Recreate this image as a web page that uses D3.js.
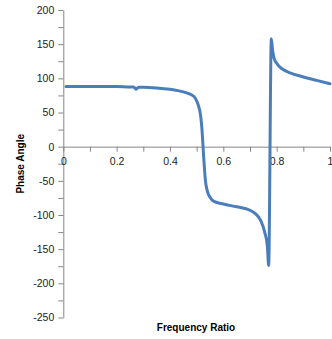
<!DOCTYPE html>
<html><head><meta charset="utf-8">
<script src="https://cdn.jsdelivr.net/npm/d3@7"></script>
<style>body{margin:0;background:#fff}svg{display:block}</style>
</head><body><svg id="c" width="332" height="339"></svg>
<script>
const xVals = [0.01,0.05,0.1,0.15,0.2,0.25,0.262,0.268,0.273,0.278,0.285,0.3,0.35,0.4,0.43,0.46,0.48,0.495,0.505,0.515,0.52,0.524,0.528,0.533,0.54,0.55,0.565,0.6,0.65,0.7,0.72,0.74,0.755,0.765,0.77,0.78,0.785,0.79,0.8,0.82,0.85,0.9,0.95,1.0];
const yVals = [88,88,88,88,88,87.5,87.5,86,84,86,87,87,86,84,82,79,76,71,62,45,25,0,-25,-50,-65,-74,-80,-84,-88,-93,-98,-108,-125,-145,-174,158,140,130,122,114,108,102,97,92];
const xTicks = [0,0.2,0.4,0.6,0.8,1];
const yTicks = [-250,-200,-150,-100,-50,0,50,100,150,200];
const xTitle = "Frequency Ratio", yTitle = "Phase Angle";

const svg = d3.select("#c");
const x = d3.scaleLinear().domain([0,1]).range([63.3,330]);
const y = d3.scaleLinear().domain([-250,200]).range([317.5,10]);
const axisCol = "#868686";
const font = "'Liberation Sans', Arial, sans-serif";

// y axis
const ya = svg.append("g").attr("transform",`translate(${x(0)},0)`)
  .call(d3.axisLeft(y).tickValues(yTicks).tickSize(5).tickSizeOuter(0).tickFormat(d=>String(d)));
ya.select(".domain").attr("stroke",axisCol);
ya.selectAll(".tick line").attr("stroke",axisCol);
ya.selectAll("text").attr("font-family",font).attr("font-size",10.5).attr("fill","#222").attr("x",-9);
svg.append("g").attr("transform",`translate(${x(0)},0)`)
  .call(d3.axisLeft(y).tickValues(d3.range(-225,200,50)).tickSize(5).tickFormat(""))
  .call(g=>{g.select(".domain").remove();g.selectAll("line").attr("stroke",axisCol);});

// x axis at y=0
const xa = svg.append("g").attr("transform",`translate(0,${y(0)})`)
  .call(d3.axisBottom(x).tickValues(xTicks).tickSize(5).tickSizeOuter(0).tickFormat(d=>String(d)));
xa.select(".domain").attr("stroke",axisCol);
xa.selectAll(".tick line").attr("stroke",axisCol);
xa.selectAll("text").attr("font-family",font).attr("font-size",10.5).attr("fill","#222").attr("y",11);
svg.append("g").attr("transform",`translate(0,${y(0)})`)
  .call(d3.axisBottom(x).tickValues([0.1,0.3,0.5,0.7,0.9]).tickSize(5).tickFormat(""))
  .call(g=>{g.select(".domain").remove();g.selectAll("line").attr("stroke",axisCol);});

// line
const data = xVals.map((d,i)=>[d,yVals[i]]);
svg.append("path").datum(data)
  .attr("fill","none").attr("stroke","#4A7EBB").attr("stroke-width",3)
  .attr("stroke-linejoin","round").attr("stroke-linecap","round")
  .attr("d",d3.line().x(d=>x(d[0])).y(d=>y(d[1])).curve(d3.curveMonotoneX));

// titles
svg.append("text").attr("x",196).attr("y",331).attr("text-anchor","middle")
  .attr("font-family",font).attr("font-size",10).attr("font-weight","bold").text(xTitle);
svg.append("text").attr("transform",`translate(24,${(y(200)+y(-250))/2}) rotate(-90)`)
  .attr("text-anchor","middle").attr("font-family",font).attr("font-size",10).attr("font-weight","bold").text(yTitle);
</script></body></html>
